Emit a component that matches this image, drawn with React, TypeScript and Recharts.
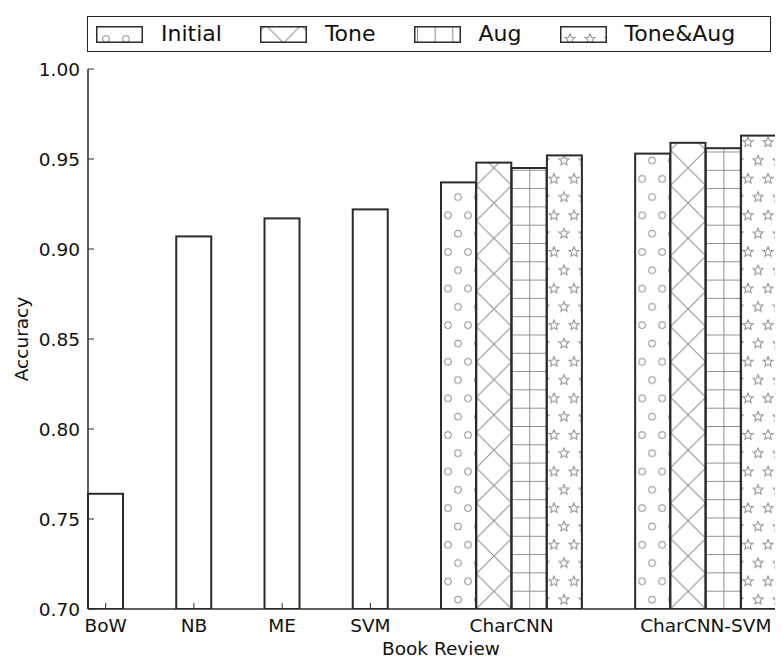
import React from 'react';
import { BarChart, Bar, XAxis, YAxis, Legend } from 'recharts';

const models = ['BoW', 'NB', 'ME', 'SVM', 'CharCNN', 'CharCNN-SVM'];
const runs = ['Initial', 'Tone', 'Aug', 'Tone&Aug'];

// book review accuracy; the classic baselines only have the initial run
const baselineAcc = [0.764, 0.907, 0.917, 0.922];
const charCnnAcc = [0.937, 0.948, 0.945, 0.952];
const charCnnSvmAcc = [0.953, 0.959, 0.956, 0.963];
const yTicks = [0.7, 0.75, 0.8, 0.85, 0.9, 0.95, 1.0];

// left edge of each model group, counted in bar widths
const groupStart = [0, 2.5, 5, 7.5, 10, 15.5];

const groupValues = [...baselineAcc.map((v) => [v]), charCnnAcc, charCnnSvmAcc];

const rows = groupValues.flatMap((vals, i) =>
    vals.map((acc, j) => ({
        pos: groupStart[i] + j + 0.5,
        acc,
        run: j,
        hatched: vals.length > 1,
        model: models[i],
    }))
);
const modelTicks = groupValues.map((vals, i) => groupStart[i] + vals.length / 2);

const FONT = '"DejaVu Sans", sans-serif';
const EDGE = '#2b2b2b';
const HATCH = '#8e8e8e';

const tiles = [
    { w: 20, h: 36.6 },
    { w: 35.3, h: 35.3 },
    { w: 17.65, h: 18.3 },
    { w: 20, h: 36.6 },
];

const starPath = (cx: number, cy: number, r: number) => {
    const pts: string[] = [];
    for (let k = 0; k < 10; k++) {
        const rad = k % 2 === 0 ? r : r * 0.45;
        const a = -Math.PI / 2 + (k * Math.PI) / 5;
        pts.push(`${(cx + rad * Math.cos(a)).toFixed(2)},${(cy + rad * Math.sin(a)).toFixed(2)}`);
    }
    return 'M' + pts.join('L') + 'Z';
};

const tileBody = (run: number) => {
    const { w, h } = tiles[run];
    const s = { stroke: HATCH, strokeWidth: 1, fill: 'none' };
    if (run === 0) {
        return (
            <g {...s}>
                <circle cx={7} cy={9} r={3.3} />
                <circle cx={17} cy={27.3} r={3.3} />
                <circle cx={-3} cy={27.3} r={3.3} />
            </g>
        );
    }
    if (run === 1) {
        return <path {...s} d={`M-1 -1 L${w + 1} ${h + 1} M${w + 1} -1 L-1 ${h + 1}`} />;
    }
    if (run === 2) {
        return <path {...s} d={`M0.5 0 V${h} M0 0.5 H${w}`} />;
    }
    return (
        <g {...s}>
            <path d={starPath(7, 9, 5.3)} />
            <path d={starPath(17, 27.3, 5.3)} />
            <path d={starPath(-3, 27.3, 5.3)} />
        </g>
    );
};

const Hatch = ({ id, run, x, y }: { id: string; run: number; x: number; y: number }) => (
    <pattern id={id} patternUnits="userSpaceOnUse" x={x} y={y} width={tiles[run].w} height={tiles[run].h}>
        <rect width={tiles[run].w} height={tiles[run].h} fill="#fff" />
        {tileBody(run)}
    </pattern>
);

const HatchBar = (props: any) => {
    const { x, y, width, height, payload, index } = props;
    if (!height) return null;
    if (!payload.hatched) {
        return <rect x={x} y={y} width={width} height={height} fill="#fff" stroke={EDGE} strokeWidth={2} />;
    }
    const id = `bar-hatch-${index}`;
    return (
        <g>
            <defs>
                <Hatch id={id} run={payload.run} x={x} y={y + height} />
            </defs>
            <rect x={x} y={y} width={width} height={height} fill={`url(#${id})`} stroke={EDGE} strokeWidth={2} />
        </g>
    );
};

const legendPatch = [
    { x: 3, y: 4 },
    { x: 5.85, y: -0.65 },
    { x: 3, y: 0 },
    { x: 3, y: 4 },
];

const LegendBox = () => (
    <div
        style={{
            boxSizing: 'border-box',
            width: 684,
            height: 36,
            border: '1px solid #222',
            display: 'flex',
            alignItems: 'center',
            paddingLeft: 8,
            fontFamily: FONT,
            fontSize: 22,
            color: '#111',
            background: '#fff',
        }}
    >
        {runs.map((name, j) => (
            <div key={name} style={{ display: 'flex', alignItems: 'center', marginRight: 38 }}>
                <svg width={47} height={17} style={{ marginRight: 18, display: 'block' }}>
                    <defs>
                        <Hatch id={`legend-hatch-${j}`} run={j} x={legendPatch[j].x} y={legendPatch[j].y} />
                    </defs>
                    <rect x={0.75} y={0.75} width={45.5} height={15.5} fill={`url(#legend-hatch-${j})`} stroke={EDGE} strokeWidth={1.5} />
                </svg>
                <span style={{ lineHeight: '22px' }}>{name}</span>
            </div>
        ))}
    </div>
);

const XTick = (props: any) => {
    const { x, y, payload } = props;
    const name = models[modelTicks.indexOf(payload.value)];
    return (
        <g>
            <line x1={x} y1={y} x2={x} y2={y - 6} stroke={EDGE} strokeWidth={1} />
            <text x={x} y={y + 23} textAnchor="middle" fontFamily={FONT} fontSize={18.5} fill="#111">
                {name}
            </text>
        </g>
    );
};

const YTick = (props: any) => {
    const { x, y, payload } = props;
    return (
        <g>
            <line x1={x} y1={y} x2={x + 6} y2={y} stroke={EDGE} strokeWidth={1} />
            <text x={x - 8} y={y} dy="0.36em" textAnchor="end" fontFamily={FONT} fontSize={18.5} fill="#111">
                {payload.value.toFixed(2)}
            </text>
        </g>
    );
};

const App: React.FC = () => {
    return (
        <div style={{ width: 775, height: 650, overflow: 'hidden', position: 'relative' }}>
            <BarChart width={800} height={650} data={rows} margin={{ top: 61, right: 14, left: 0, bottom: 0 }}>
                <XAxis
                    xAxisId="top"
                    orientation="top"
                    type="number"
                    domain={[0, 20]}
                    height={0}
                    tick={false}
                    tickLine={false}
                    axisLine={{ stroke: EDGE, strokeWidth: 1.5 }}
                />
                <XAxis
                    dataKey="pos"
                    type="number"
                    domain={[0, 20]}
                    ticks={modelTicks}
                    interval={0}
                    height={49}
                    tickSize={0}
                    tickMargin={0}
                    tickLine={false}
                    tick={<XTick />}
                    axisLine={{ stroke: EDGE, strokeWidth: 1.5 }}
                    label={(p: any) => (
                        <text
                            x={p.viewBox.x + p.viewBox.width / 2}
                            y={647}
                            textAnchor="middle"
                            fontFamily={FONT}
                            fontSize={18.5}
                            fill="#111"
                        >
                            Book Review
                        </text>
                    )}
                />
                <YAxis
                    type="number"
                    domain={[0.7, 1]}
                    ticks={yTicks}
                    interval={0}
                    width={80}
                    tickSize={0}
                    tickMargin={0}
                    tickLine={false}
                    allowDataOverflow
                    tick={<YTick />}
                    axisLine={{ stroke: EDGE, strokeWidth: 1.5 }}
                    label={(p: any) => {
                        const cy = p.viewBox.y + p.viewBox.height / 2;
                        return (
                            <text
                                x={20}
                                y={cy}
                                transform={`rotate(-90, 20, ${cy})`}
                                textAnchor="middle"
                                fontFamily={FONT}
                                fontSize={18.5}
                                fill="#111"
                            >
                                Accuracy
                            </text>
                        );
                    }}
                />
                <Legend
                    layout="horizontal"
                    verticalAlign="middle"
                    align="center"
                    wrapperStyle={{ top: 8, left: 79, width: 684, height: 36 }}
                    content={() => <LegendBox />}
                />
                <Bar dataKey="acc" barSize={35} shape={<HatchBar />} isAnimationActive={false} />
            </BarChart>
        </div>
    );
};

export default App;
